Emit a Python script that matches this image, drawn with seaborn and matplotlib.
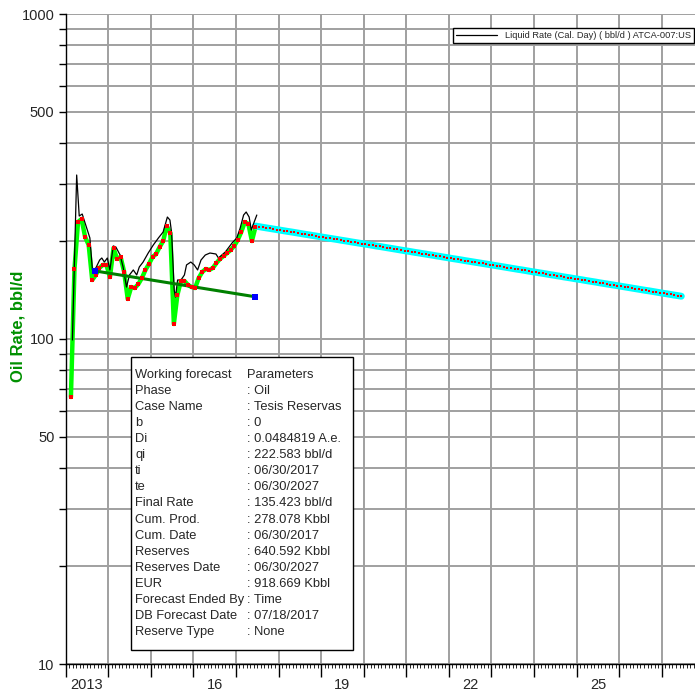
import pandas as pd
import matplotlib
matplotlib.use("Agg")
import matplotlib.pyplot as plt
import seaborn as sns
from matplotlib.patches import Rectangle
from matplotlib.ticker import MultipleLocator, NullLocator

# Historico mensal de oleo (bbl/d), fev/2013 ate jun/2017
hist_start = "2013-02"
oil_rate = [66.3, 164.2, 229.1, 234.0, 206.0, 194.7, 151.9, 157.4, 165.4, 169.0,
            169.0, 155.1, 190.5, 176.3, 178.8, 160.8, 132.8, 144.5, 143.5, 147.6,
            154.0, 163.1, 170.2, 178.8, 182.6, 191.9, 200.2, 222.7, 212.0, 111.2,
            136.6, 150.8, 150.8, 146.6, 144.5, 143.5, 154.0, 160.8, 164.2, 163.1,
            165.4, 171.3, 176.3, 180.0, 183.9, 187.8, 193.3, 201.6, 213.4, 229.1,
            225.9, 200.2, 221.1]

# Liquid rate (cal. day)
liq_time = [2013.16, 2013.26, 2013.32, 2013.39, 2013.48, 2013.57, 2013.63, 2013.71, 2013.80, 2013.85,
            2013.91, 2013.98, 2014.04, 2014.12, 2014.18, 2014.28, 2014.35, 2014.43, 2014.50, 2014.59,
            2014.67, 2014.73, 2014.82, 2014.94, 2015.06, 2015.18, 2015.29, 2015.39, 2015.45, 2015.49,
            2015.55, 2015.58, 2015.63, 2015.71, 2015.79, 2015.84, 2015.94, 2016.02, 2016.10, 2016.18,
            2016.28, 2016.39, 2016.53, 2016.59, 2016.75, 2016.91, 2017.02, 2017.10, 2017.18, 2017.24,
            2017.31, 2017.36, 2017.42, 2017.49]
liq_rate = [99.3, 319.6, 239.0, 242.4, 222.7, 204.6, 163.1, 165.4, 175.0, 177.5,
            172.5, 177.5, 163.1, 193.3, 191.9, 181.3, 166.5, 144.5, 157.4, 163.1,
            157.4, 166.5, 172.5, 183.9, 194.7, 204.6, 213.4, 237.3, 232.3, 212.0,
            141.5, 134.6, 151.9, 151.9, 157.4, 169.0, 172.5, 169.0, 163.1, 175.0,
            181.3, 183.9, 182.6, 177.5, 185.2, 197.5, 204.6, 219.5, 240.7, 245.9,
            237.3, 216.4, 227.5, 240.7]

# Linha de tendencia (pontos azuis)
trend_time = [2013.70, 2017.45]
trend_rate = [161.9, 134.9]

# Previsao mensal, jun/2017 ate jun/2027
fc_start = "2017-06"
fc_rate = [222.6, 221.7, 220.7, 219.8, 218.9, 218.0, 217.1, 216.2, 215.3, 214.4, 213.6, 212.7,
           211.8, 210.9, 210.0, 209.2, 208.3, 207.5, 206.6, 205.7, 204.9, 204.0, 203.2, 202.4,
           201.5, 200.7, 199.9, 199.0, 198.2, 197.4, 196.6, 195.8, 195.0, 194.2, 193.3, 192.6,
           191.8, 191.0, 190.2, 189.4, 188.6, 187.8, 187.0, 186.3, 185.5, 184.7, 184.0, 183.2,
           182.5, 181.7, 181.0, 180.2, 179.5, 178.7, 178.0, 177.2, 176.5, 175.8, 175.1, 174.3,
           173.6, 172.9, 172.2, 171.5, 170.8, 170.1, 169.4, 168.7, 168.0, 167.3, 166.6, 165.9,
           165.2, 164.5, 163.8, 163.2, 162.5, 161.8, 161.1, 160.5, 159.8, 159.2, 158.5, 157.8,
           157.2, 156.5, 155.9, 155.2, 154.6, 154.0, 153.3, 152.7, 152.1, 151.4, 150.8, 150.2,
           149.6, 148.9, 148.3, 147.7, 147.1, 146.5, 145.9, 145.3, 144.7, 144.1, 143.5, 142.9,
           142.3, 141.7, 141.1, 140.6, 140.0, 139.4, 138.8, 138.2, 137.7, 137.1, 136.5, 136.0,
           135.4]

y_levels = [10, 20, 30, 40, 50, 60, 70, 80, 90, 100, 200, 300, 400, 500, 600, 700, 800, 900, 1000]
y_labeled = [10, 50, 100, 500, 1000]
year_labels = ["2013", "16", "19", "22", "25"]
label_years = [2013, 2016, 2019, 2022, 2025]

params = [("Working forecast", "Parameters"),
          ("Phase", ": Oil"),
          ("Case Name", ": Tesis Reservas"),
          ("b", ": 0"),
          ("Di", ": 0.0484819 A.e."),
          ("qi", ": 222.583 bbl/d"),
          ("ti", ": 06/30/2017"),
          ("te", ": 06/30/2027"),
          ("Final Rate", ": 135.423 bbl/d"),
          ("Cum. Prod.", ": 278.078 Kbbl"),
          ("Cum. Date", ": 06/30/2017"),
          ("Reserves", ": 640.592 Kbbl"),
          ("Reserves Date", ": 06/30/2027"),
          ("EUR", ": 918.669 Kbbl"),
          ("Forecast Ended By", ": Time"),
          ("DB Forecast Date", ": 07/18/2017"),
          ("Reserve Type", ": None")]


def dec_year(start, n):
    p = pd.period_range(start, periods=n, freq="M")
    return list(p.year + (p.month - 0.5) / 12)


hist_time = dec_year(hist_start, len(oil_rate))
fc_time = dec_year(fc_start, len(fc_rate))

sns.set_style("white")
plt.rcParams["font.family"] = ["Liberation Sans", "DejaVu Sans"]

fig = plt.figure(figsize=(6.95, 6.92), dpi=100)
ax = fig.add_axes([65.6 / 695, 1 - 664 / 692, (695 - 65.6) / 695, 650 / 692])

# historico
sns.lineplot(x=hist_time, y=oil_rate, color="#00ff00", linewidth=3.2, ax=ax, zorder=3)
sns.lineplot(x=liq_time, y=liq_rate, color="black", linewidth=0.9, ax=ax, zorder=4,
             label="Liquid Rate (Cal. Day) ( bbl/d ) ATCA-007:US")
sns.lineplot(x=trend_time, y=trend_rate, color="#008000", linewidth=2.2, ax=ax, zorder=5, legend=False)
sns.scatterplot(x=hist_time, y=oil_rate, marker="s", color="red", s=8, linewidth=0, ax=ax, zorder=6)
sns.scatterplot(x=trend_time, y=trend_rate, marker="s", color="blue", s=22, linewidth=0, ax=ax, zorder=7)

# previsao
sns.lineplot(x=fc_time, y=fc_rate, color="#00ffff", linewidth=5, ax=ax, zorder=3, legend=False)
sns.scatterplot(x=fc_time, y=fc_rate, marker="s", color="red", s=4.5, linewidth=0, ax=ax, zorder=6)

ax.set_yscale("log")
ax.set_ylim(10, 1000)
ax.set_xlim(2013, 2027.78)
ax.set_yticks(y_levels)
ax.set_yticklabels([str(v) if v in y_labeled else "" for v in y_levels])
ax.yaxis.set_minor_locator(NullLocator())
ax.xaxis.set_major_locator(MultipleLocator(1))
ax.xaxis.set_minor_locator(MultipleLocator(1 / 12))
ax.set_xticklabels([])
ax.tick_params(axis="y", which="major", direction="out", length=5, width=1, color="black",
               labelsize=10.5, left=True, pad=3)
ax.tick_params(axis="x", which="major", direction="out", length=9, width=1, color="black", bottom=True)
ax.tick_params(axis="x", which="minor", direction="out", length=3, width=0.6, color="black", bottom=True)
ax.grid(True, which="major", color="#a0a0a0", linewidth=1.4)
ax.set_axisbelow(True)
for s in ["top", "right"]:
    ax.spines[s].set_visible(False)
for s in ["left", "bottom"]:
    ax.spines[s].set_color("black")
    ax.spines[s].set_linewidth(1)

sec = ax.secondary_xaxis("bottom")
sec.set_xticks([y + 0.5 for y in label_years], labels=year_labels)
sec.tick_params(length=0, labelsize=10.5, pad=10)
sec.spines["bottom"].set_visible(False)

ax.set_ylabel("Oil Rate, bbl/d", color="#009000", fontweight="bold", fontsize=12)
ax.yaxis.set_label_coords(-0.0645, 0.52)
ax.set_xlabel("")

leg = ax.legend(loc="upper right", bbox_to_anchor=(0.9984, 0.9785), fontsize=6.7, frameon=True,
                fancybox=False, framealpha=1, edgecolor="black", borderpad=0.35,
                handlelength=4.4, handletextpad=0.8, borderaxespad=0)
leg.get_frame().set_linewidth(1)

# caixa de parametros
W, H = 695, 692
ax.add_patch(Rectangle((131 / W, 1 - 650 / H), 222 / W, 293 / H, transform=fig.transFigure,
                       facecolor="white", edgecolor="black", linewidth=1, clip_on=False, zorder=10))
for i, (name, val) in enumerate(params):
    yy = 1 - (375 + 16.06 * i) / H
    fig.text(135 / W, yy, name, fontsize=9.3, va="center", ha="left", zorder=11)
    fig.text(247 / W, yy, val, fontsize=9.3, va="center", ha="left", zorder=11)

fig.savefig("out.png", dpi=100, facecolor="white")
